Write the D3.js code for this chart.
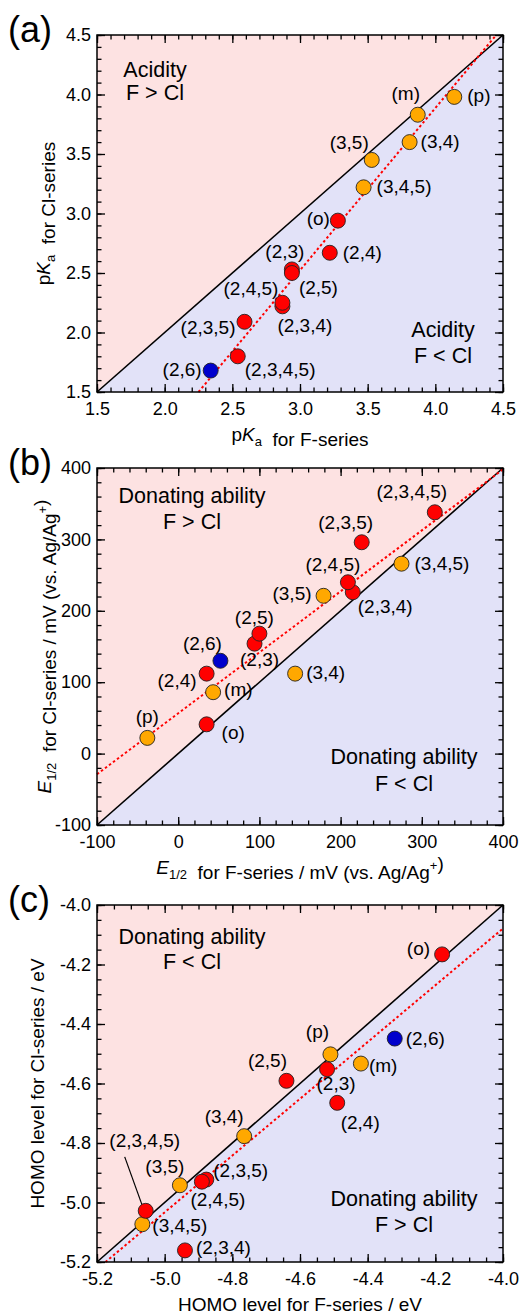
<!DOCTYPE html>
<html>
<head>
<meta charset="utf-8">
<script src="https://cdn.jsdelivr.net/npm/d3@7"></script>
<style>
body { margin: 0; background: #fff; }
svg { display: block; font-family: "Liberation Sans", Arial, sans-serif; }
</style>
</head>
<body>
<div id="chart"></div>
<script>
// substituent positions, same order in every panel
var subs = ["o", "m", "p", "2,3", "2,4", "2,5", "2,6", "3,4", "3,5", "2,3,4", "2,3,5", "2,4,5", "3,4,5", "2,3,4,5"];
var kind = ["red", "orange", "orange", "red", "red", "red", "blue", "orange", "orange", "red", "red", "red", "orange", "red"];

// (a) pKa
var pkaF  = [3.28, 3.87, 4.14, 2.94, 3.22, 2.94, 2.34, 3.81, 3.53, 2.87, 2.59, 2.87, 3.47, 2.54];
var pkaCl = [2.94, 3.83, 3.98, 2.53, 2.67, 2.50, 1.68, 3.60, 3.45, 2.22, 2.09, 2.25, 3.22, 1.80];
var pkaFit = [[2.25, 1.5], [4.45, 4.5]];
var pkaTicks = [1.5, 2.0, 2.5, 3.0, 3.5, 4.0, 4.5];

// (b) E1/2 in mV
var eF  = [35, 43, -38, 94, 35, 100, 52, 144, 179, 215, 226, 209, 275, 316];
var eCl = [41, 86, 22, 154, 112, 168, 130, 112, 221, 226, 296, 240, 266, 338];
var eFit = [[-100, -29], [400, 398]];
var eTicks = [-100, 0, 100, 200, 300, 400];

// (c) HOMO in eV
var homoF  = [-4.18, -4.42, -4.51, -4.52, -4.49, -4.64, -4.32, -4.765, -4.955, -4.94, -4.877, -4.89, -5.066, -5.056];
var homoCl = [-4.166, -4.533, -4.502, -4.552, -4.665, -4.591, -4.449, -4.777, -4.942, -5.161, -4.923, -4.93, -5.073, -5.028];
var homoFit = [[-5.175, -5.2], [-4.0, -4.079]];
var homoTicks = [-5.2, -5.0, -4.8, -4.6, -4.4, -4.2, -4.0];

var colors = {red: "#ff0000", orange: "#ffa800", blue: "#0000cc"};

// label offsets from the marker centre: [dx, dy, anchor]
var offA = {"p": [13, 5, "start"], "m": [-12, -15, "middle"], "3,4": [11, 6, "start"], "3,5": [-3, -11, "end"],
  "3,4,5": [13, 6, "start"], "o": [-8, 4, "end"], "2,4": [13, 6, "start"], "2,3": [-7, -11, "middle"],
  "2,5": [7, 21, "start"], "2,4,5": [-4, -8, "end"], "2,3,4": [-5, 26, "start"], "2,3,5": [-9, 12, "end"],
  "2,3,4,5": [7, 20, "start"], "2,6": [-9, 5, "end"]};
var offB = {"2,3,4,5": [-23, -14, "middle"], "2,3,5": [-16, -13, "middle"], "3,4,5": [13, 6, "start"],
  "2,4,5": [-15, -11, "middle"], "2,3,4": [5, 21, "start"], "3,5": [-12, 4, "end"], "2,5": [-5, -10, "middle"],
  "2,3": [5, 22, "middle"], "2,6": [-18, -11, "middle"], "2,4": [-10, 13, "end"], "3,4": [11, 5, "start"],
  "m": [11, 4, "start"], "o": [15, 15, "start"], "p": [0, -15, "middle"]};
var offC = {"o": [-12, 1, "end"], "2,6": [11, 6, "start"], "p": [-13, -16, "middle"], "m": [8, 8, "start"],
  "2,3": [9, 21, "middle"], "2,5": [-19, -14, "middle"], "2,4": [23, 26, "middle"], "3,4": [-20, -13, "middle"],
  "2,3,5": [7, -3, "start"], "2,4,5": [16, 24, "middle"], "3,5": [-15, -12, "middle"], "2,3,4,5": [-1, -64, "middle"],
  "3,4,5": [10, 8, "start"], "2,3,4": [11, 4, "start"]};

var W = 526, H = 1316;
var left = 97, pw = 406, ph = 357;

var svg = d3.select("#chart").append("svg").attr("width", W).attr("height", H);

var fmt1 = function(d) { return d.toFixed(1); };
var fmt0 = function(d) { return String(d); };

var panels = [
  {tag: "(a)", top: 35, x: pkaF, y: pkaCl, fit: pkaFit, ticks: pkaTicks, minor: 0.1, fmt: fmt1, off: offA,
   xTitle: [["p"], ["K", "i"], ["a", "sub"], ["  for F-series"]],
   yTitle: [["p"], ["K", "i"], ["a", "sub"], ["  for Cl-series"]], yTitleX: 50,
   notes: [[58, 42, "Acidity"], [58, 65, "F > Cl"], [346, 302, "Acidity"], [346, 328, "F < Cl"]]},
  {tag: "(b)", top: 468, x: eF, y: eCl, fit: eFit, ticks: eTicks, minor: 20, fmt: fmt0, off: offB,
   xTitle: [["E", "i"], ["1/2", "sub"], ["  for F-series / mV (vs. Ag/Ag"], ["+", "sup"], [")"]],
   yTitle: [["E", "i"], ["1/2", "sub"], ["  for Cl-series / mV (vs. Ag/Ag"], ["+", "sup"], [")"]], yTitleX: 51,
   notes: [[95, 35, "Donating ability"], [95, 61, "F > Cl"], [307, 296, "Donating ability"], [307, 323, "F < Cl"]]},
  {tag: "(c)", top: 905, x: homoF, y: homoCl, fit: homoFit, ticks: homoTicks, minor: 0.05, fmt: fmt1, off: offC,
   xTitle: [["HOMO level for F-series / eV"]],
   yTitle: [["HOMO level for Cl-series / eV"]], yTitleX: 44,
   notes: [[95, 39, "Donating ability"], [95, 64, "F < Cl"], [307, 301, "Donating ability"], [307, 327, "F > Cl"]],
   leader: {sub: "2,3,4,5", from: [-21, -54], to: [-3.6, -5.7]}}
];

function richText(sel, parts) {
  parts.forEach(function(p) {
    var t = sel.append("tspan").text(p[0]);
    if (p[1] === "i") t.attr("font-style", "italic");
    if (p[1] === "sub") t.attr("font-size", "13px").attr("dy", 5);
    if (p[1] === "sup") t.attr("font-size", "13px").attr("dy", -9);
    // undo shift for next part
    if (p[1] === "sub") sel.append("tspan").attr("dy", -5).text("");
    if (p[1] === "sup") sel.append("tspan").attr("dy", 9).text("");
  });
}

panels.forEach(function(P) {
  var lo = P.ticks[0], hi = P.ticks[P.ticks.length - 1];
  var x = d3.scaleLinear().domain([lo, hi]).range([0, pw]);
  var y = d3.scaleLinear().domain([lo, hi]).range([ph, 0]);
  var g = svg.append("g").attr("transform", "translate(" + left + "," + P.top + ")");

  // shaded halves
  g.append("path").attr("fill", "#fde2e2")
    .attr("d", "M" + x(lo) + "," + y(lo) + "L" + x(hi) + "," + y(hi) + "L" + x(lo) + "," + y(hi) + "Z");
  g.append("path").attr("fill", "#e2e2f8")
    .attr("d", "M" + x(lo) + "," + y(lo) + "L" + x(hi) + "," + y(hi) + "L" + x(hi) + "," + y(lo) + "Z");

  // axes: major + minor ticks, inward on all sides
  var minorVals = d3.range(lo, hi + P.minor / 2, P.minor);
  function addAxis(axis, tr, labels) {
    var a = g.append("g").attr("transform", tr).call(axis);
    a.select(".domain").remove();
    a.selectAll("line").attr("stroke", "#000").attr("stroke-width", 1.3);
    a.selectAll("text").attr("font-size", "18px").attr("fill", "#000").attr("font-family", null);
    if (!labels) a.selectAll("text").remove();
    return a;
  }
  addAxis(d3.axisBottom(x).tickValues(minorVals).tickSize(-4.5), "translate(0," + ph + ")", false);
  addAxis(d3.axisTop(x).tickValues(minorVals).tickSize(-4.5), "translate(0,0)", false);
  addAxis(d3.axisLeft(y).tickValues(minorVals).tickSize(-4.5), "translate(0,0)", false);
  addAxis(d3.axisRight(y).tickValues(minorVals).tickSize(-4.5), "translate(" + pw + ",0)", false);
  addAxis(d3.axisBottom(x).tickValues(P.ticks).tickSize(-8).tickPadding(10).tickFormat(P.fmt), "translate(0," + ph + ")", true);
  addAxis(d3.axisTop(x).tickValues(P.ticks).tickSize(-8), "translate(0,0)", false);
  addAxis(d3.axisLeft(y).tickValues(P.ticks).tickSize(-8).tickPadding(6).tickFormat(P.fmt), "translate(0,0)", true);
  addAxis(d3.axisRight(y).tickValues(P.ticks).tickSize(-8), "translate(" + pw + ",0)", false);

  // y = x line
  g.append("line").attr("x1", x(lo)).attr("y1", y(lo)).attr("x2", x(hi)).attr("y2", y(hi))
    .attr("stroke", "#000").attr("stroke-width", 1.6);
  // fit line
  g.append("line").attr("x1", x(P.fit[0][0])).attr("y1", y(P.fit[0][1]))
    .attr("x2", x(P.fit[1][0])).attr("y2", y(P.fit[1][1]))
    .attr("stroke", "#ff0000").attr("stroke-width", 2).attr("stroke-dasharray", "2.5,2.5");

  // frame
  g.append("rect").attr("width", pw).attr("height", ph).attr("fill", "none")
    .attr("stroke", "#000").attr("stroke-width", 1.5);

  // notes
  P.notes.forEach(function(n) {
    g.append("text").attr("x", n[0]).attr("y", n[1]).attr("text-anchor", "middle")
      .attr("font-size", "21.5px").text(n[2]);
  });

  var pts = subs.map(function(s, i) { return {s: s, k: kind[i], x: P.x[i], y: P.y[i]}; });

  if (P.leader) {
    var lp = pts.filter(function(d) { return d.s === P.leader.sub; })[0];
    g.append("line")
      .attr("x1", x(lp.x) + P.leader.from[0]).attr("y1", y(lp.y) + P.leader.from[1])
      .attr("x2", x(lp.x) + P.leader.to[0]).attr("y2", y(lp.y) + P.leader.to[1])
      .attr("stroke", "#000").attr("stroke-width", 1.2);
  }

  g.selectAll("circle.pt").data(pts).enter().append("circle").attr("class", "pt")
    .attr("cx", function(d) { return x(d.x); }).attr("cy", function(d) { return y(d.y); })
    .attr("r", 7.5).attr("fill", function(d) { return colors[d.k]; })
    .attr("stroke", "#222").attr("stroke-width", 0.9);

  g.selectAll("text.lab").data(pts).enter().append("text").attr("class", "lab")
    .attr("x", function(d) { return x(d.x) + P.off[d.s][0]; })
    .attr("y", function(d) { return y(d.y) + P.off[d.s][1]; })
    .attr("text-anchor", function(d) { return P.off[d.s][2]; })
    .attr("font-size", "19px").text(function(d) { return "(" + d.s + ")"; });

  // titles
  var xt = g.append("text").attr("x", pw / 2).attr("y", ph + 49).attr("text-anchor", "middle")
    .attr("font-size", "19px").style("white-space", "pre");
  richText(xt, P.xTitle);
  var yt = svg.append("text").attr("text-anchor", "middle").attr("font-size", "19px").style("white-space", "pre")
    .attr("transform", "translate(" + P.yTitleX + "," + (P.top + ph / 2) + ") rotate(-90)");
  richText(yt, P.yTitle);

  svg.append("text").attr("x", 8).attr("y", P.top + 7).attr("font-size", "36px").text(P.tag);
});
</script>
</body>
</html>
